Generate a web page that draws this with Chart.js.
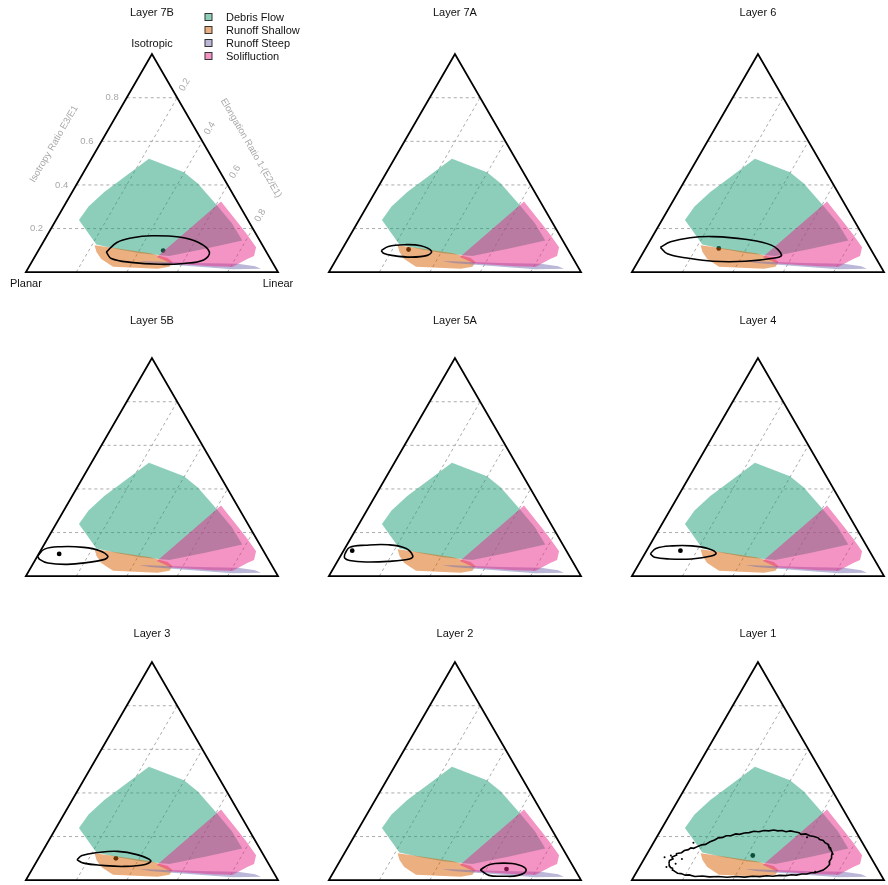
<!DOCTYPE html>
<html>
<head>
<meta charset="utf-8">
<script src="https://cdn.jsdelivr.net/npm/chart.js@4.4.1/dist/chart.umd.min.js"></script>
<style>
html, body { margin: 0; padding: 0; background: #fff; overflow: hidden; }
#wrap { position: relative; width: 888px; height: 885px; overflow: hidden; }
#wrap canvas { position: absolute; }
</style>
</head>
<body>
<div id="wrap"></div>
<script>
// every pair below is [elongation 1-(E2/E1), isotropy E3/E1]
var layerNames = ['Layer 7B', 'Layer 7A', 'Layer 6', 'Layer 5B', 'Layer 5A', 'Layer 4', 'Layer 3', 'Layer 2', 'Layer 1'];
var classNames = ['Debris Flow', 'Runoff Shallow', 'Runoff Steep', 'Solifluction'];
var classColors = ['rgba(27,158,119,0.5)', 'rgba(217,95,2,0.5)', 'rgba(117,112,179,0.5)', 'rgba(231,41,138,0.5)'];
var isoTicks = [0.2, 0.4, 0.6, 0.8];
var elongTicks = [0.2, 0.4, 0.6, 0.8];

var debrisFlow = [[0.228, 0.520], [0.398, 0.458], [0.477, 0.408], [0.594, 0.315], [0.704, 0.225], [0.786, 0.145],
    [0.661, 0.109], [0.532, 0.074], [0.410, 0.087], [0.313, 0.105], [0.216, 0.127], [0.091, 0.239], [0.098, 0.301], [0.127, 0.368]];
var runoffShallow = [[0.211, 0.123], [0.310, 0.109], [0.449, 0.087], [0.530, 0.065], [0.558, 0.047], [0.557, 0.025],
    [0.515, 0.016], [0.333, 0.025], [0.269, 0.060], [0.234, 0.092]];
var runoffSteep = [[0.424, 0.051], [0.664, 0.042], [0.821, 0.038], [0.896, 0.027], [0.924, 0.016], [0.814, 0.013],
    [0.673, 0.025], [0.471, 0.042]];
var solifluction = [[0.612, 0.324], [0.739, 0.217], [0.792, 0.172], [0.856, 0.114], [0.868, 0.074], [0.848, 0.060],
    [0.808, 0.025], [0.726, 0.027], [0.557, 0.040], [0.485, 0.069]];

var contour7B = [[0.273, 0.092], [0.293, 0.136], [0.344, 0.158], [0.416, 0.167], [0.528, 0.161], [0.617, 0.136],
    [0.682, 0.092], [0.677, 0.056], [0.607, 0.040], [0.513, 0.036], [0.393, 0.045], [0.307, 0.063]];
var contour7A = [[0.158, 0.099], [0.177, 0.118], [0.237, 0.126], [0.304, 0.121], [0.359, 0.096], [0.352, 0.077],
    [0.292, 0.069], [0.211, 0.077], [0.173, 0.087]];
var contour6 = [[0.056, 0.114], [0.084, 0.139], [0.152, 0.158], [0.240, 0.163], [0.374, 0.151], [0.491, 0.124],
    [0.554, 0.079], [0.533, 0.065], [0.425, 0.050], [0.296, 0.050], [0.186, 0.065], [0.099, 0.084]];
var contour5B = [[0.000, 0.092], [0.012, 0.124], [0.071, 0.135], [0.163, 0.132], [0.234, 0.117], [0.279, 0.092],
    [0.274, 0.077], [0.210, 0.062], [0.137, 0.054], [0.057, 0.060], [0.016, 0.077]];
var contour5A = [[0.012, 0.102], [0.016, 0.132], [0.075, 0.142], [0.164, 0.144], [0.243, 0.127], [0.287, 0.092],
    [0.280, 0.079], [0.202, 0.068], [0.114, 0.065], [0.046, 0.072], [0.021, 0.083]];
var contour4 = [[0.022, 0.102], [0.032, 0.127], [0.091, 0.139], [0.168, 0.139], [0.238, 0.127], [0.281, 0.106],
    [0.269, 0.092], [0.198, 0.079], [0.108, 0.079], [0.046, 0.087]];
var contour3 = [[0.156, 0.093], [0.166, 0.113], [0.223, 0.127], [0.298, 0.132], [0.382, 0.117], [0.450, 0.090],
    [0.437, 0.072], [0.358, 0.063], [0.265, 0.068], [0.190, 0.078]];
var contour2 = [[0.577, 0.047], [0.600, 0.071], [0.654, 0.078], [0.715, 0.071], [0.759, 0.047], [0.740, 0.022],
    [0.684, 0.018], [0.624, 0.022]];
var contour1 = [[0.108, 0.078], [0.104, 0.090], [0.114, 0.098], [0.106, 0.106], [0.118, 0.114], [0.116, 0.122],
    [0.134, 0.126], [0.140, 0.136], [0.154, 0.140], [0.160, 0.148], [0.172, 0.146], [0.186, 0.156], [0.196, 0.162],
    [0.210, 0.164], [0.222, 0.176], [0.236, 0.184], [0.246, 0.194], [0.262, 0.196], [0.272, 0.204], [0.290, 0.204],
    [0.306, 0.212], [0.322, 0.210], [0.338, 0.216], [0.356, 0.218], [0.372, 0.224], [0.392, 0.222], [0.410, 0.228],
    [0.430, 0.226], [0.448, 0.230], [0.466, 0.226], [0.482, 0.228], [0.500, 0.222], [0.516, 0.226], [0.534, 0.222],
    [0.554, 0.218], [0.566, 0.210], [0.584, 0.212], [0.604, 0.204], [0.622, 0.200], [0.642, 0.194], [0.652, 0.186],
    [0.668, 0.182], [0.680, 0.172], [0.696, 0.164], [0.704, 0.154], [0.714, 0.148], [0.722, 0.136], [0.732, 0.126],
    [0.736, 0.112], [0.742, 0.100], [0.740, 0.086], [0.748, 0.072], [0.744, 0.058], [0.736, 0.046], [0.722, 0.040],
    [0.710, 0.034], [0.694, 0.034], [0.680, 0.028], [0.660, 0.028], [0.640, 0.023], [0.620, 0.025], [0.600, 0.021],
    [0.575, 0.022], [0.550, 0.018], [0.525, 0.020], [0.499, 0.016], [0.470, 0.018], [0.440, 0.014], [0.405, 0.017],
    [0.371, 0.013], [0.335, 0.017], [0.300, 0.015], [0.270, 0.019], [0.241, 0.017], [0.215, 0.024], [0.200, 0.023],
    [0.180, 0.030], [0.165, 0.032], [0.150, 0.040], [0.140, 0.046], [0.134, 0.054], [0.124, 0.058], [0.116, 0.066],
    [0.112, 0.072]];
var layer1Specks = [[0.158, 0.172], [0.098, 0.113], [0.136, 0.075], [0.150, 0.097], [0.107, 0.060], [0.077, 0.105],
    [0.596, 0.197], [0.737, 0.120], [0.708, 0.038]];
var centres = [[0.495, 0.099], [0.264, 0.104], [0.290, 0.109], [0.081, 0.102], [0.034, 0.117], [0.134, 0.117],
    [0.307, 0.100], [0.679, 0.051], [0.423, 0.113]];

var contourList = [contour7B, contour7A, contour6, contour5B, contour5A, contour4, contour3, contour2, contour1];
var classPolys = [debrisFlow, runoffShallow, runoffSteep, solifluction];

// panel geometry (pixels inside each canvas)
var size = 300, baseLeft = 22.5, baseY = 275.5, side = 259, tall = 224;
var titleY = [13, 17, 26];
var font = '"Liberation Sans", Arial, sans-serif';

function toXY(pairs) {
    return pairs.map(function (p) { return {x: p[0] + p[1] / 2, y: p[1]}; });
}
function closed(pairs) {
    return pairs.concat([pairs[0]]);
}

var ternary = {
    id: 'ternary',
    beforeDatasetsDraw: function (chart) {
        var ctx = chart.ctx, xs = chart.scales.x, ys = chart.scales.y;
        var pt = function (e, i) { return [xs.getPixelForValue(e + i / 2), ys.getPixelForValue(i)]; };
        ctx.save();
        ctx.setLineDash([3, 3]);
        ctx.strokeStyle = '#ababab';
        ctx.lineWidth = 1;
        isoTicks.forEach(function (t) {
            var a = pt(0, t), b = pt(1 - t, t);
            ctx.beginPath(); ctx.moveTo(a[0], a[1]); ctx.lineTo(b[0], b[1]); ctx.stroke();
        });
        elongTicks.forEach(function (t) {
            var a = pt(t, 0), b = pt(t, 1 - t);
            ctx.beginPath(); ctx.moveTo(a[0], a[1]); ctx.lineTo(b[0], b[1]); ctx.stroke();
        });
        ctx.restore();
    },
    afterDatasetsDraw: function (chart, args, opts) {
        var ctx = chart.ctx, xs = chart.scales.x, ys = chart.scales.y;
        var pt = function (e, i) { return [xs.getPixelForValue(e + i / 2), ys.getPixelForValue(i)]; };
        var L = pt(0, 0), R = pt(1, 0), T = pt(0, 1);
        ctx.save();
        ctx.strokeStyle = '#000';
        ctx.lineWidth = 1.8;
        ctx.beginPath();
        ctx.moveTo(L[0], L[1]); ctx.lineTo(R[0], R[1]); ctx.lineTo(T[0], T[1]); ctx.closePath();
        ctx.stroke();

        ctx.fillStyle = '#111';
        ctx.font = '11px ' + font;
        ctx.textAlign = 'center';
        ctx.textBaseline = 'middle';
        ctx.fillText(opts.title, T[0], opts.titleY);

        if (opts.first) {
            ctx.fillText('Isotropic', T[0], T[1] - 10);
            ctx.fillText('Planar', L[0], L[1] + 12);
            ctx.fillText('Linear', R[0], R[1] + 12);

            ctx.fillStyle = '#a8a8a8';
            ctx.font = '9.5px ' + font;
            ctx.textAlign = 'right';
            isoTicks.forEach(function (t) {
                var a = pt(0, t);
                ctx.fillText(String(t), a[0] - 8, a[1]);
            });
            ctx.textAlign = 'center';
            elongTicks.forEach(function (t) {
                var b = pt(t, 1 - t);
                ctx.save();
                ctx.translate(b[0] + 7.5, b[1] - 13);
                ctx.rotate(-Math.PI / 3);
                ctx.fillText(String(t), 0, 0);
                ctx.restore();
            });
            ctx.save();
            ctx.translate(54, 144);
            ctx.rotate(-Math.PI / 3);
            ctx.fillText('Isotropy Ratio E3/E1', 0, 0);
            ctx.restore();
            ctx.save();
            ctx.translate(251, 148);
            ctx.rotate(Math.PI / 3);
            ctx.fillText('Elongation Ratio 1-(E2/E1)', 0, 0);
            ctx.restore();

            // legend
            ctx.font = '11px ' + font;
            ctx.textAlign = 'left';
            classNames.forEach(function (n, j) {
                var y = 17 + j * 13;
                ctx.fillStyle = '#fff';
                ctx.fillRect(205, y - 3.5, 7, 7);
                ctx.fillStyle = classColors[j];
                ctx.fillRect(205, y - 3.5, 7, 7);
                ctx.strokeStyle = '#333';
                ctx.lineWidth = 1;
                ctx.strokeRect(205, y - 3.5, 7, 7);
                ctx.fillStyle = '#111';
                ctx.fillText(n, 226, y + 0.5);
            });
        }
        ctx.restore();
    }
};

var wrap = document.getElementById('wrap');
layerNames.forEach(function (name, k) {
    var col = k % 3, row = Math.floor(k / 3);
    var cv = document.createElement('canvas');
    cv.width = size;
    cv.height = size;
    cv.style.left = (col * 303) + 'px';
    cv.style.top = (row * 304) + 'px';
    wrap.appendChild(cv);

    var datasets = [];
    classPolys.forEach(function (poly, j) {
        datasets.push({
            label: classNames[j],
            data: toXY(closed(poly)),
            backgroundColor: classColors[j],
            borderColor: 'rgba(0,0,0,0)',
            borderWidth: 0,
            pointRadius: 0,
            fill: 'shape',
            order: 5 - j
        });
    });
    datasets.push({
        label: 'contour',
        data: toXY(closed(contourList[k])),
        borderColor: '#000',
        borderWidth: 1.6,
        pointRadius: 0,
        tension: k === 8 ? 0 : 0.4,
        fill: false,
        order: 1
    });
    datasets.push({
        label: 'centre',
        data: toXY([centres[k]]),
        showLine: false,
        pointRadius: 2.4,
        pointBorderWidth: 0,
        pointBackgroundColor: '#000',
        order: 20
    });
    if (k === 8) {
        datasets.push({
            label: 'specks',
            data: toXY(layer1Specks),
            showLine: false,
            pointRadius: 1,
            pointBorderWidth: 0,
            pointBackgroundColor: '#000',
            order: 1
        });
    }

    new Chart(cv, {
        type: 'line',
        data: {datasets: datasets},
        options: {
            responsive: false,
            animation: false,
            events: [],
            layout: {padding: 0},
            scales: {
                x: {type: 'linear', display: false, min: -baseLeft / side, max: (size - baseLeft) / side},
                y: {type: 'linear', display: false, min: (baseY - size) / tall, max: baseY / tall}
            },
            plugins: {
                legend: {display: false},
                tooltip: {enabled: false},
                ternary: {title: name, titleY: titleY[row], first: k === 0}
            }
        },
        plugins: [ternary]
    });
});
</script>
</body>
</html>
